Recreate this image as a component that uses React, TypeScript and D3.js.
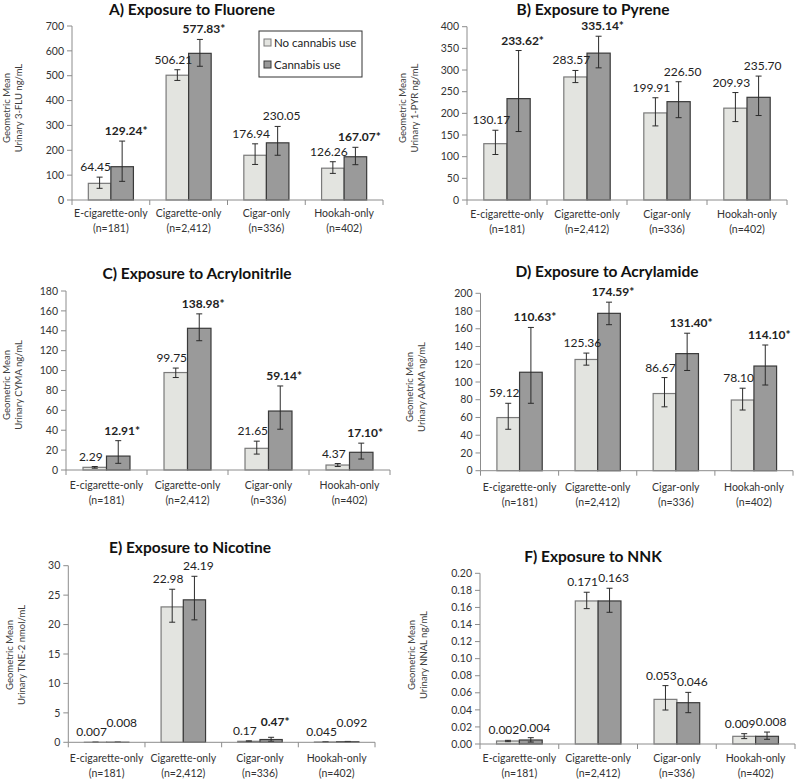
import * as d3 from 'd3'

const categories = ['E-cigarette-only', 'Cigarette-only', 'Cigar-only', 'Hookah-only']
const sampleSizes = ['(n=181)', '(n=2,412)', '(n=336)', '(n=402)']
const seriesNames = ['No cannabis use', 'Cannabis use']

// A) Fluorene (3-FLU)
const fluoreneNone = [67, 502, 180, 128]
const fluoreneCannabis = [134, 590, 230, 174]
const fluoreneNoneCI = [[47, 92], [481, 524], [143, 226], [107, 154]]
const fluoreneCannabisCI = [[75, 237], [538, 646], [180, 296], [142, 212]]
const fluoreneNoneLabels = ['64.45', '506.21', '176.94', '126.26']
const fluoreneCannabisLabels = ['129.24*', '577.83*', '230.05', '167.07*']

// B) Pyrene (1-PYR)
const pyreneNone = [130, 284, 201, 212]
const pyreneCannabis = [234, 339, 227, 237]
const pyreneNoneCI = [[105, 161], [271, 299], [171, 236], [181, 248]]
const pyreneCannabisCI = [[158, 345], [305, 378], [190, 273], [195, 286]]
const pyreneNoneLabels = ['130.17', '283.57', '199.91', '209.93']
const pyreneCannabisLabels = ['233.62*', '335.14*', '226.50', '235.70']

// C) Acrylonitrile (CYMA)
const cymaNone = [2.7, 98, 21.8, 5]
const cymaCannabis = [14, 142.5, 59.3, 17.8]
const cymaNoneCI = [[1.8, 3.5], [93, 102.5], [16, 29], [3.5, 6.5]]
const cymaCannabisCI = [[6.7, 29.5], [130, 157], [41, 84.5], [11, 27]]
const cymaNoneLabels = ['2.29', '99.75', '21.65', '4.37']
const cymaCannabisLabels = ['12.91*', '138.98*', '59.14*', '17.10*']

// D) Acrylamide (AAMA)
const aamaNone = [59.9, 125.4, 87, 79.7]
const aamaCannabis = [111, 177.4, 132, 118]
const aamaNoneCI = [[46.7, 76], [119, 132.6], [72, 105], [68.4, 93]]
const aamaCannabisCI = [[76, 161.5], [164.6, 190], [113, 155], [96.6, 141.7]]
const aamaNoneLabels = ['59.12', '125.36', '86.67', '78.10']
const aamaCannabisLabels = ['110.63*', '174.59*', '131.40*', '114.10*']

// E) Nicotine (TNE-2)
const tneNone = [0.007, 23, 0.17, 0.045]
const tneCannabis = [0.008, 24.2, 0.47, 0.092]
const tneNoneCI = [[0.005, 0.01], [20.4, 26], [0.1, 0.25], [0.03, 0.06]]
const tneCannabisCI = [[0.005, 0.012], [20.8, 28.2], [0.17, 0.85], [0.05, 0.15]]
const tneNoneLabels = ['0.007', '22.98', '0.17', '0.045']
const tneCannabisLabels = ['0.008', '24.19', '0.47*', '0.092']

// F) NNK (NNAL)
const nnalNone = [0.0035, 0.1676, 0.0523, 0.009]
const nnalCannabis = [0.0047, 0.1676, 0.0484, 0.009]
const nnalNoneCI = [[0.0027, 0.0043], [0.1586, 0.1778], [0.0398, 0.0684], [0.0063, 0.0121]]
const nnalCannabisCI = [[0.0023, 0.0074], [0.1543, 0.1825], [0.0367, 0.0605], [0.0055, 0.014]]
const nnalNoneLabels = ['0.002', '0.171', '0.053', '0.009']
const nnalCannabisLabels = ['0.004', '0.163', '0.046', '0.008']

const FONT = 'Lato, "Open Sans", sans-serif'
const LIGHT = '#e3e4e0'
const DARK = '#9a9a9a'

interface PanelProps {
  title: string
  unit: string
  yMax: number
  yStep: number
  decimals: number
  none: number[]
  cannabis: number[]
  noneCI: number[][]
  cannabisCI: number[][]
  noneLabels: string[]
  cannabisLabels: string[]
  frame: { x0: number; x1: number; y0: number; y1: number }
  titleX: number
  titleY: number
  catY: number
  yTitleX: number
  yTitleY: number
  legend?: boolean
  stagger?: boolean
}

function Panel(p: PanelProps) {
  const { x0, x1, y0, y1 } = p.frame
  const x = d3.scaleBand<string>().domain(categories).range([x0, x1])
  const y = d3.scaleLinear().domain([0, p.yMax]).range([y1, y0])
  const bw = x.bandwidth() * 0.29
  const ticks = d3.range(0, p.yMax + p.yStep / 2, p.yStep)
  const fmt = d3.format(`.${p.decimals}f`)
  const edges = [x0, ...categories.map(c => (x(c) as number) + x.bandwidth())]

  const errBar = (cx: number, ci: number[], key: string) => (
    <g key={key} stroke="#2b2b2b" strokeWidth={1}>
      <line x1={cx} x2={cx} y1={y(ci[0])} y2={y(ci[1])} />
      <line x1={cx - 3} x2={cx + 3} y1={y(ci[0])} y2={y(ci[0])} />
      <line x1={cx - 3} x2={cx + 3} y1={y(ci[1])} y2={y(ci[1])} />
    </g>
  )

  return (
    <g fontFamily={FONT}>
      <text x={p.titleX} y={p.titleY + 6} textAnchor="middle" fontSize={15.5} fontWeight="bold" fill="#111">
        {p.title}
      </text>
      {/* y axis */}
      <line x1={x0} x2={x0} y1={y0} y2={y1} stroke="#8c8c8c" />
      {ticks.map(t => (
        <g key={t}>
          <line x1={x0 - 5} x2={x0} y1={y(t)} y2={y(t)} stroke="#8c8c8c" />
          <text x={x0 - 8} y={y(t)} dy="0.35em" textAnchor="end" fontSize={10.5} fill="#333">
            {fmt(t)}
          </text>
        </g>
      ))}
      <text transform={`translate(${p.yTitleX},${p.yTitleY}) rotate(-90)`} textAnchor="middle" fontSize={9.5} fill="#404040">
        <tspan x={0} dy={0}>Geometric Mean</tspan>
        <tspan x={0} dy={11.5}>{p.unit}</tspan>
      </text>
      {/* bars */}
      {categories.map((c, i) => {
        const cx = (x(c) as number) + x.bandwidth() / 2
        return (
          <g key={c}>
            <rect x={cx - bw} y={y(p.none[i])} width={bw} height={y(0) - y(p.none[i])} fill={LIGHT} stroke="#7a7a7a" strokeWidth={1.2} />
            <rect x={cx} y={y(p.cannabis[i])} width={bw} height={y(0) - y(p.cannabis[i])} fill={DARK} stroke="#3a3a3a" strokeWidth={1.2} />
            {errBar(cx - bw / 2, p.noneCI[i], 'a')}
            {errBar(cx + bw / 2, p.cannabisCI[i], 'b')}
          </g>
        )
      })}
      {/* x axis */}
      <line x1={x0} x2={x1} y1={y1} y2={y1} stroke="#8c8c8c" />
      {edges.map((e, i) => (
        <line key={i} x1={e} x2={e} y1={y1} y2={y1 + 5} stroke="#8c8c8c" />
      ))}
      {categories.map((c, i) => {
        const cx = (x(c) as number) + x.bandwidth() / 2
        return (
          <text key={c} x={cx} y={p.catY + 4} textAnchor="middle" fontSize={10.5} fill="#333">
            <tspan x={cx} dy={0}>{c}</tspan>
            <tspan x={cx} dy={15}>{sampleSizes[i]}</tspan>
          </text>
        )
      })}
      {/* value labels */}
      {categories.map((c, i) => {
        const cx = (x(c) as number) + x.bandwidth() / 2
        const ly = y(p.noneCI[i][1]) - 6
        let dy = y(p.cannabisCI[i][1]) - 6
        if (p.stagger && Math.abs(dy - ly) < 6) dy = ly - 9
        const nl = p.noneLabels[i]
        const cl = p.cannabisLabels[i]
        return (
          <g key={c} fontSize={12} fill="#222">
            <text x={cx - bw / 2 - 4} y={ly} textAnchor="middle" fontWeight={nl.includes('*') ? 'bold' : 'normal'}>{nl}</text>
            <text x={cx + bw / 2 + 4} y={dy} textAnchor="middle" fontWeight={cl.includes('*') ? 'bold' : 'normal'}>{cl}</text>
          </g>
        )
      })}
      {p.legend && (
        <g>
          <rect x={259} y={31} width={103} height={46} fill="#fff" stroke="#333" />
          {seriesNames.map((s, i) => (
            <g key={s}>
              <rect x={264} y={39 + i * 22} width={7} height={7} fill={i === 0 ? LIGHT : DARK} stroke={i === 0 ? '#7a7a7a' : '#3a3a3a'} />
              <text x={274} y={43 + i * 22} dy="0.35em" fontSize={11.5} fill="#222">{s}</text>
            </g>
          ))}
        </g>
      )}
    </g>
  )
}

export default function App() {
  return (
    <svg width={799} height={779} style={{ position: 'absolute', left: 0, top: 0, background: '#fff' }}>
      <rect width={799} height={779} fill="#fff" />
      <Panel title="A) Exposure to Fluorene" unit="Urinary 3-FLU ng/mL" yMax={700} yStep={100} decimals={0}
        none={fluoreneNone} cannabis={fluoreneCannabis} noneCI={fluoreneNoneCI} cannabisCI={fluoreneCannabisCI}
        noneLabels={fluoreneNoneLabels} cannabisLabels={fluoreneCannabisLabels}
        frame={{ x0: 72, x1: 383, y0: 26, y1: 200 }} titleX={192} titleY={9} catY={213} yTitleX={10} yTitleY={108} legend />
      <Panel title="B) Exposure to Pyrene" unit="Urinary 1-PYR ng/mL" yMax={400} yStep={50} decimals={0}
        none={pyreneNone} cannabis={pyreneCannabis} noneCI={pyreneNoneCI} cannabisCI={pyreneCannabisCI}
        noneLabels={pyreneNoneLabels} cannabisLabels={pyreneCannabisLabels}
        frame={{ x0: 467, x1: 787, y0: 26.7, y1: 200 }} titleX={593} titleY={9} catY={214} yTitleX={406} yTitleY={108} />
      <Panel title="C) Exposure to Acrylonitrile" unit="Urinary CYMA ng/mL" yMax={180} yStep={20} decimals={0}
        none={cymaNone} cannabis={cymaCannabis} noneCI={cymaNoneCI} cannabisCI={cymaCannabisCI}
        noneLabels={cymaNoneLabels} cannabisLabels={cymaCannabisLabels}
        frame={{ x0: 66, x1: 390, y0: 291, y1: 470 }} titleX={197} titleY={273} catY={485} yTitleX={10} yTitleY={385} />
      <Panel title="D) Exposure to Acrylamide" unit="Urinary AAMA ng/mL" yMax={200} yStep={20} decimals={0}
        none={aamaNone} cannabis={aamaCannabis} noneCI={aamaNoneCI} cannabisCI={aamaCannabisCI}
        noneLabels={aamaNoneLabels} cannabisLabels={aamaCannabisLabels}
        frame={{ x0: 480.5, x1: 793, y0: 293.3, y1: 470.7 }} titleX={607} titleY={271} catY={487} yTitleX={413} yTitleY={387} />
      <Panel title="E) Exposure to Nicotine" unit="Urinary TNE-2 nmol/mL" yMax={30} yStep={5} decimals={0}
        none={tneNone} cannabis={tneCannabis} noneCI={tneNoneCI} cannabisCI={tneCannabisCI}
        noneLabels={tneNoneLabels} cannabisLabels={tneCannabisLabels}
        frame={{ x0: 68.3, x1: 375, y0: 565.7, y1: 742.3 }} titleX={190} titleY={547} catY={758} yTitleX={13} yTitleY={655} stagger />
      <Panel title="F) Exposure to NNK" unit="Urinary NNAL ng/mL" yMax={0.2} yStep={0.02} decimals={2}
        none={nnalNone} cannabis={nnalCannabis} noneCI={nnalNoneCI} cannabisCI={nnalCannabisCI}
        noneLabels={nnalNoneLabels} cannabisLabels={nnalCannabisLabels}
        frame={{ x0: 480, x1: 795, y0: 573.3, y1: 744 }} titleX={593} titleY={556} catY={758} yTitleX={415} yTitleY={655} />
    </svg>
  )
}
